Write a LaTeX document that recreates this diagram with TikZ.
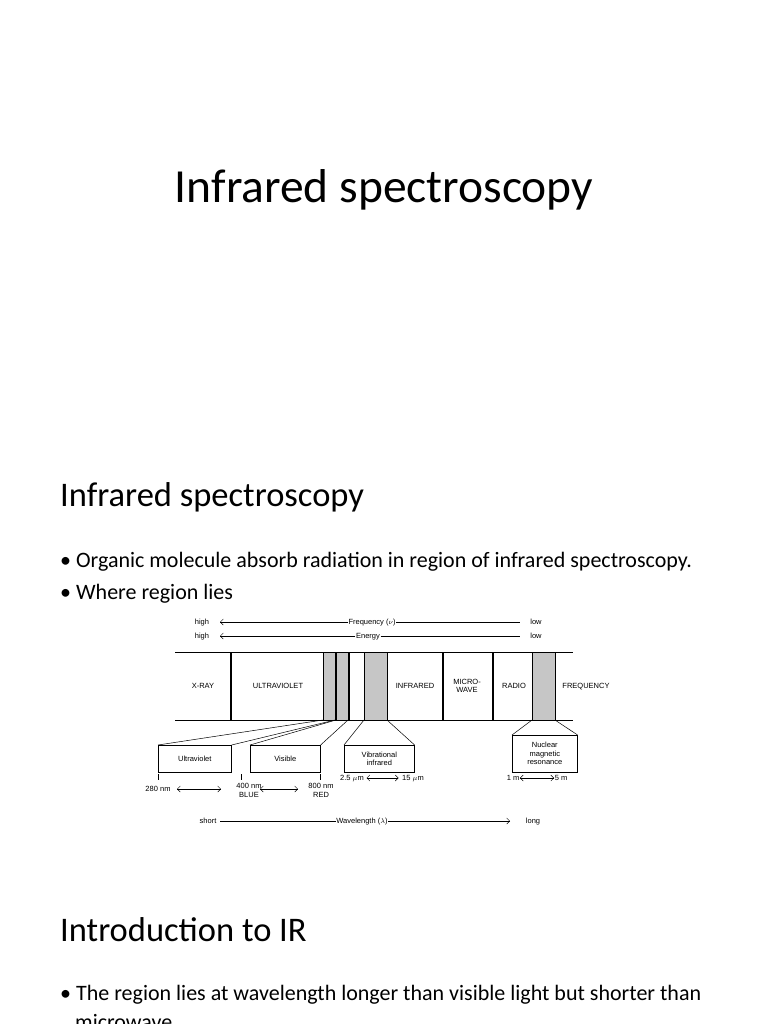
\documentclass[tikz,border=0pt]{standalone}
\usepackage{fontspec}
\setmainfont{Carlito}
\newfontfamily\diagfont{Liberation Sans}
\usetikzlibrary{calc, positioning, arrows.meta, patterns}

\begin{document}
\begin{tikzpicture}[
    x=1pt, y=-1pt,
    >={Straight Barb[length=3pt]},
    lbl/.style={font=\diagfont\fontsize{7.5}{8.5}\selectfont, inner sep=0.5pt, align=center, text height=5.5pt, text depth=1.5pt},
    band/.style={draw=black, line width=0.5pt, fill=gray!45},
    wall/.style={line width=1.6pt},
    box/.style={draw, line width=0.6pt, minimum height=27pt, inner sep=1pt, align=center, font=\diagfont\fontsize{7.5}{8.5}\selectfont},
    bullet/.style={anchor=west, font=\fontsize{22}{25}\selectfont, inner sep=0pt}
]
    \useasboundingbox (0,0) rectangle (768,1024);

    % Slide texts
    \node[font=\fontsize{47.5}{52}\selectfont] (title) at (384,190) {Infrared spectroscopy};
    \node[anchor=west, font=\fontsize{34.5}{38}\selectfont, inner sep=0pt] (head1) at (60,497) {Infrared spectroscopy};
    \node[bullet] (b1) at (60,562) {• Organic molecule absorb radiation in region of infrared spectroscopy.};
    \node[bullet] (b2) at (60,594) {• Where region lies};
    \node[anchor=west, font=\fontsize{34.5}{38}\selectfont, inner sep=0pt] (head2) at (60,930) {Introduction to IR};
    \node[bullet] (b3) at (60,995) {• The region lies at wavelength longer than visible light but shorter than};
    \node[bullet] (b3b) at (75,1022) {microwave.};

    % Frequency and energy rows
    \node[lbl] (fhigh) at (202,622) {high};
    \node[lbl] (flow) at (536,622) {low};
    \node[lbl] (freq) at (372,622) {Frequency ($\nu$)};
    \draw[->] (freq.west) -- (220,622);
    \draw (freq.east) -- (520,622);
    \node[lbl] (ehigh) at (202,636) {high};
    \node[lbl] (elow) at (536,636) {low};
    \node[lbl] (energy) at (368,636) {Energy};
    \draw[->] (energy.west) -- (220,636);
    \draw (energy.east) -- (520,636);

    % Spectrum band
    \fill[band] (323,652) rectangle (335,720);
    \fill[band] (336,652) rectangle (348,720);
    \fill[band] (364,652) rectangle (387,720);
    \fill[band] (532,652) rectangle (555,720);
    \draw[line width=0.6pt] (175,652) -- (573,652);
    \draw[line width=0.6pt] (175,720) -- (573,720);
    \foreach \xw in {231,349,443,493}
        \draw[wall] (\xw,652) -- (\xw,720);

    \node[lbl] (xray) at (203,686) {X-RAY};
    \node[lbl] (uv) at (278,686) {ULTRAVIOLET};
    \node[lbl] (ir) at (415,686) {INFRARED};
    \node[lbl, text height=, text depth=] (mw) at (467,686) {MICRO-\\WAVE};
    \node[lbl] (radio) at (514,686) {RADIO};
    \node[lbl] (rfreq) at (586,686) {FREQUENCY};

    % Zoomed boxes
    \node[box, minimum width=73pt, anchor=north west] (uvbox) at (158,745) {Ultraviolet};
    \node[box, minimum width=70pt, anchor=north west] (visbox) at (250,745) {Visible};
    \node[box, minimum width=70pt, anchor=north west] (vibbox) at (344,745) {Vibrational\\infrared};
    \node[box, minimum width=65pt, minimum height=37pt, anchor=north west] (nmrbox) at (512,735) {Nuclear\\magnetic\\resonance};

    \draw[line width=0.5pt] (uvbox.north west) -- (323,720);
    \draw[line width=0.5pt] (uvbox.north east) -- (335,720);
    \draw[line width=0.5pt] (visbox.north west) -- (336,720);
    \draw[line width=0.5pt] (visbox.north east) -- (348,720);
    \draw[line width=0.5pt] (vibbox.north west) -- (364,720);
    \draw[line width=0.5pt] (vibbox.north east) -- (387,720);
    \draw[line width=0.5pt] (nmrbox.north west) -- (532,720);
    \draw[line width=0.5pt] (nmrbox.north east) -- (555,720);

    % Wavelength marks
    \foreach \xt in {158,241,320}
        \draw[line width=0.6pt] (\xt,774) -- (\xt,780);
    \node[lbl] (w280) at (158,789) {280 nm};
    \node[lbl, text height=, text depth=, anchor=north] (w400) at (249,783) {400 nm\\BLUE};
    \node[lbl, text height=, text depth=, anchor=north] (w800) at (321,783) {800 nm\\RED};
    \coordinate (a280) at (177,789);
    \coordinate (a400l) at (221,789);
    \coordinate (a400r) at (260,789);
    \coordinate (a800) at (298,789);
    \draw[<->] (a280) -- (a400l);
    \draw[<->] (a400r) -- (a800);
    \node[lbl] (w25) at (352,778) {2.5 $\mu$m};
    \node[lbl] (w15) at (413,778) {15 $\mu$m};
    \draw[<->] (w25.east) ++(2,0) -- ($(w15.west)+(-3,0)$);
    \node[lbl] (w1m) at (513,778) {1 m};
    \node[lbl] (w5m) at (561,778) {5 m};
    \draw[<->] (w1m.east) -- (w5m.west);

    % Wavelength row
    \node[lbl] (short) at (208,821) {short};
    \node[lbl] (long) at (533,821) {long};
    \node[lbl] (wave) at (362,821) {Wavelength ($\lambda$)};
    \draw (short.east) ++(3,0) -- (wave.west);
    \draw[->] (wave.east) -- (510,821);
\end{tikzpicture}
\end{document}
